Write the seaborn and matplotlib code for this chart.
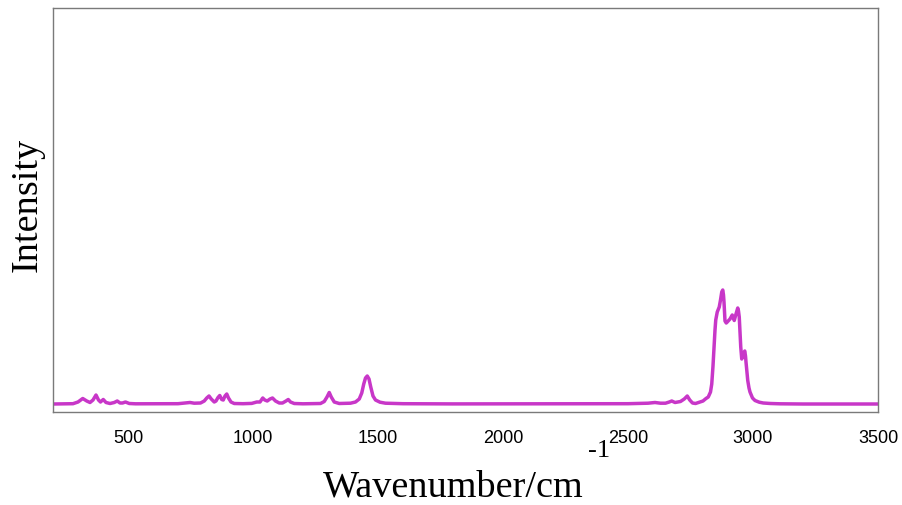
import matplotlib
matplotlib.use("Agg")
import matplotlib.pyplot as plt
import seaborn as sns
import pandas as pd

# Raman spectrum, points (wavenumber in cm^-1, intensity in arbitrary units)
wavenumber = [
    200, 280, 300, 319, 335, 348, 360, 372, 382, 390, 401, 412, 428, 445, 457, 468, 478, 490, 505, 530,
    600, 700, 730, 748, 765, 790, 805, 815, 824, 833, 845, 852, 860, 867, 875, 881, 888, 895, 902, 912,
    925, 960, 995, 1015, 1028, 1039, 1047, 1057, 1068, 1078, 1090, 1105, 1118, 1132, 1141, 1150, 1165,
    1200, 1270, 1285, 1296, 1305, 1313, 1325, 1345, 1390, 1410, 1425, 1435, 1443, 1450, 1457, 1464,
    1471, 1480, 1490, 1508, 1530, 1600, 1800, 2200, 2500, 2580, 2608, 2630, 2650, 2665, 2675, 2688,
    2710, 2725, 2737, 2747, 2758, 2770, 2788, 2800, 2812, 2821, 2830, 2835, 2840, 2844, 2848, 2851,
    2857, 2865, 2870, 2875, 2879, 2882, 2884, 2888, 2893, 2897, 2908, 2917, 2921, 2925, 2932, 2939,
    2942, 2945, 2948, 2951, 2955, 2961, 2967, 2970, 2972, 2976, 2979, 2984, 2988, 2998, 3008, 3025,
    3041, 3070, 3108, 3200, 3500,
]
intensity = [
    0, 0.3, 2, 5.5, 3, 1.5, 4, 9, 4, 2, 4.5, 1.5, 0.5, 1.5, 3, 1, 1, 2, 0.5, 0.2,
    0.2, 0.3, 1, 1.5, 0.8, 1, 3, 6, 8, 5, 2, 3, 6.5, 8.5, 4.5, 4, 8, 10, 6, 2,
    0.5, 0.3, 0.6, 2, 2, 6, 4, 3, 5, 6, 3, 1, 1, 3, 4.5, 2, 0.5,
    0.2, 0.5, 2.5, 7, 11.5, 7, 2, 0.5, 0.8, 2, 5, 11, 20, 26, 28, 25,
    17, 8, 4, 1.8, 0.8, 0.3, 0.1, 0.2, 0.3, 0.8, 1.5, 0.8, 0.8, 2, 3, 1.5,
    2.5, 5, 8, 4, 1, 0.5, 2, 3, 5.5, 7, 12, 20, 38, 57, 74, 84,
    92, 97, 104, 112, 114, 109, 102, 83, 81, 82, 85, 89, 86, 83.5, 90, 96,
    93, 87, 72, 57, 45, 50, 53, 48, 42, 32, 23.5, 16, 12, 6, 3.5, 1.8,
    1, 0.5, 0.2, 0, 0,
]
xticks = [500, 1000, 1500, 2000, 2500, 3000, 3500]

df = pd.DataFrame({"Wavenumber": wavenumber, "Intensity": intensity})

sns.set_style("white")
plt.rcParams["font.family"] = ["Liberation Sans", "DejaVu Sans"]

fig = plt.figure(figsize=(9.02, 5.06), dpi=100)
ax = fig.add_axes([53 / 902, (506 - 413) / 506, (878 - 53) / 902, (413 - 9) / 506])

sns.lineplot(data=df, x="Wavenumber", y="Intensity", ax=ax, color="#c837c8",
             linewidth=2.5, sort=False)

ax.set_xlim(200, 3500)
ax.set_ylim(-8, 396)
ax.set_xticks(xticks)
ax.set_xticklabels([str(t) for t in xticks])
ax.set_yticks([168.5])
ax.set_yticklabels([""])
ax.tick_params(axis="x", direction="in", length=3, color="#606060", labelsize=13, pad=12,
               labelcolor="black")
ax.tick_params(axis="y", direction="in", length=2, width=1.5, color="#3050ff")

for s in ax.spines.values():
    s.set_color("#7a7a7a")
    s.set_linewidth(1.0)
    s.set_visible(True)

ax.set_xlabel("Wavenumber/cm", family=["Liberation Serif"], fontsize=27.5, color="black")
ax.xaxis.set_label_coords((453.5 - 53) / 825, -57 / 404)
fig.text(588 / 902, 1 - 440 / 506, "-1", family=["Liberation Serif"], fontsize=19,
         color="black", ha="left", va="top")
ax.set_ylabel("Intensity", family=["Liberation Serif"], fontsize=27.5, color="black")
ax.yaxis.set_label_coords(-8 / 825, (413 - 205) / 404)

fig.savefig("out.png", dpi=100)
